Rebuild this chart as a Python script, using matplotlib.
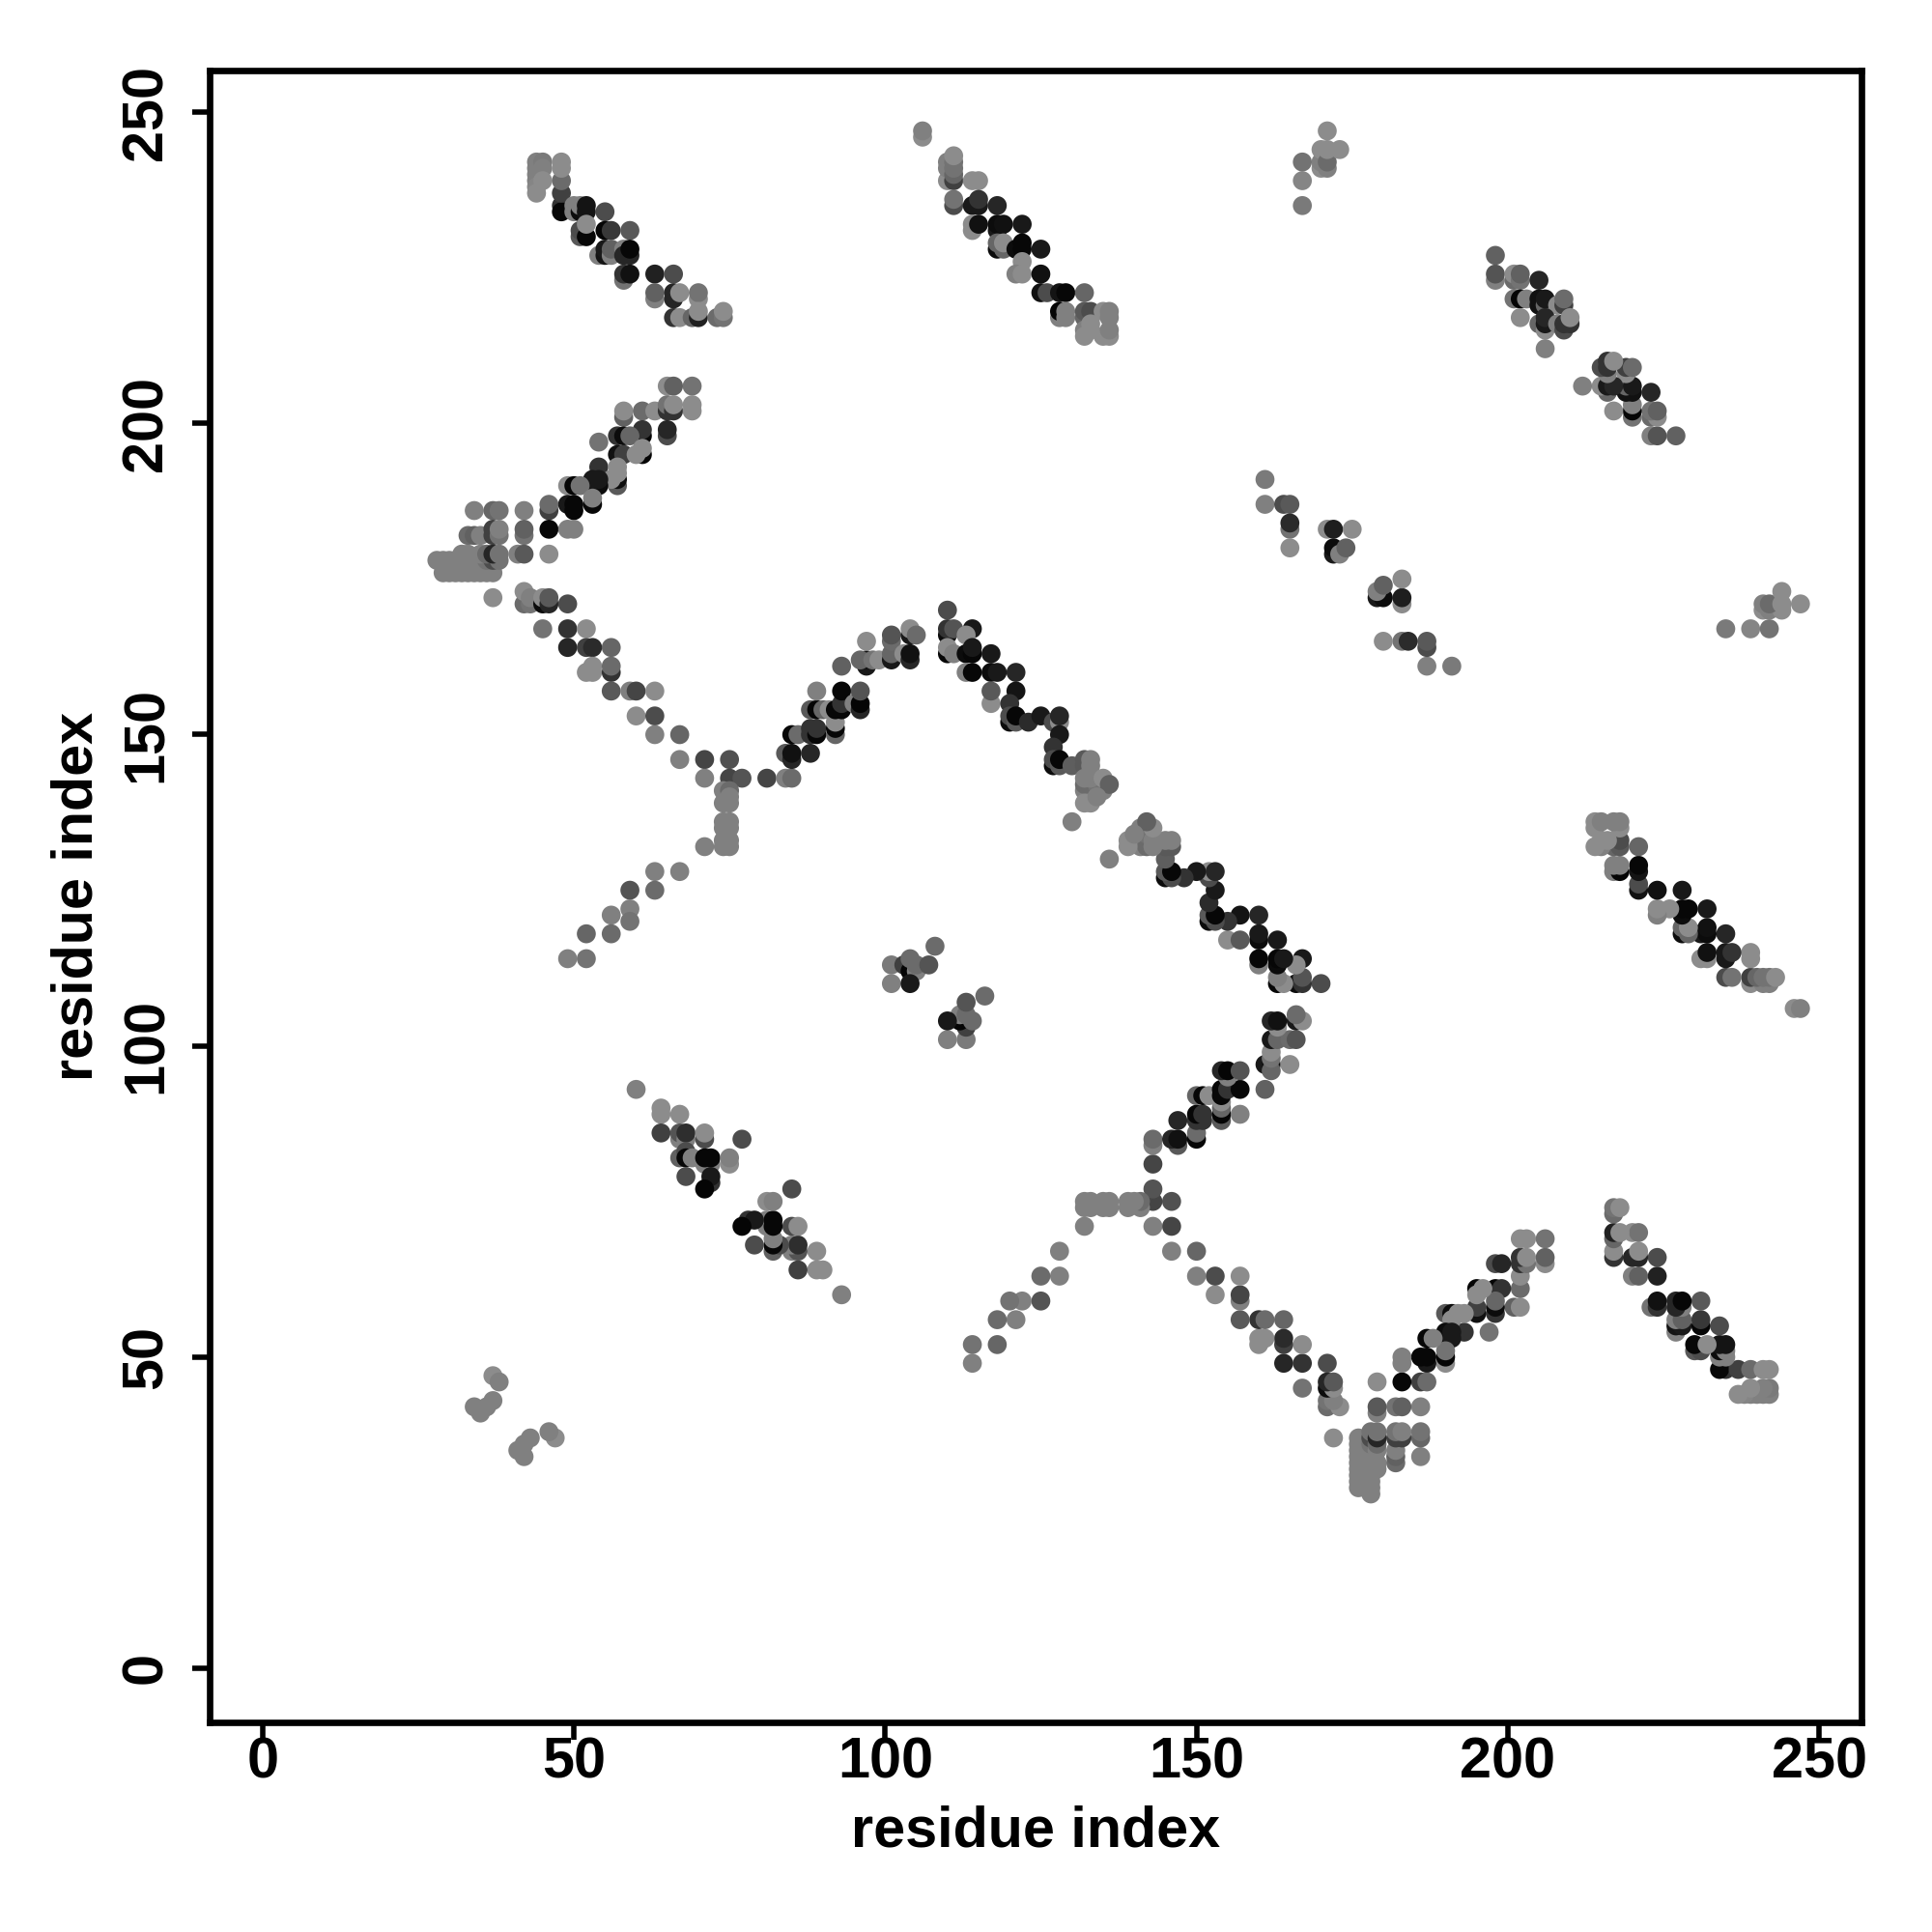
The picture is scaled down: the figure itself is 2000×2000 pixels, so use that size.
#!/usr/bin/env python3
"""Residue contact map, drawn from the upper triangle and mirrored."""

import matplotlib

matplotlib.use("Agg")
import matplotlib.pyplot as plt
import numpy as np

# each entry: (residue i, residue j, grey level) with i < j
strand_a = [
    (44, 242, .5), (44, 241, .5), (44, 240, .5), (44, 239, .5), (44, 238, .52), (44, 237, .55),
    (45, 242, .48), (45, 241, .5), (45, 239, .55),
    (48, 235, .2), (48, 234, .03), (48, 237, .25), (48, 239, .42), (48, 241, .55), (48, 242, .55),
    (50, 235, .5), (50, 234, .5), (51, 234, .05), (51, 235, .5), (52, 235, .08), (52, 234, .08),
    (55, 234, .3), (51, 230, .35), (51, 231, .3), (52, 230, .03), (52, 232, .55),
    (55, 231, .02), (56, 231, .22), (59, 231, .35), (54, 227, .5), (55, 227, .08), (55, 228, .1),
    (56, 227, .5), (56, 228, .38), (58, 228, .5), (58, 227, .15), (59, 227, .15), (59, 228, .03),
    (58, 223, .45), (58, 224, .2), (59, 224, .07), (63, 224, .13), (66, 224, .3),
    (63, 220, .5), (63, 221, .38), (66, 220, .15), (66, 221, .15), (67, 221, .55),
    (70, 220, .55), (70, 221, .45), (66, 217, .2), (67, 217, .55), (69, 217, .4),
    (70, 217, .13), (70, 218, .55), (73, 217, .42), (74, 217, .45), (74, 218, .55),
]
strand_b = [
    (65, 206, .55), (66, 206, .38), (69, 206, .45), (58, 201, .38), (58, 202, .55), (61, 202, .42),
    (63, 202, .55), (65, 202, .2), (65, 203, .45), (66, 202, .2), (66, 203, .55),
    (69, 202, .55), (69, 203, .55), (65, 198, .3), (65, 199, .15), (61, 198, .02), (61, 199, .2),
    (57, 198, .2), (58, 198, .05), (59, 198, .4), (54, 197, .45), (57, 195, .07), (58, 195, .25),
    (61, 195, .02), (60, 195, .55), (61, 196, .55), (54, 193, .2), (57, 190, .35), (57, 191, .05),
    (57, 192, .55), (57, 193, .55), (56, 191, .55), (53, 190, .05), (54, 190, .05), (53, 191, .1),
    (54, 191, .1), (49, 190, .55), (50, 190, .02), (51, 190, .45), (53, 187, .03), (53, 188, .5),
    (49, 187, .1), (50, 186, .03), (50, 187, .03), (46, 186, .25), (46, 187, .42),
    (34, 186, .5), (37, 186, .4), (38, 186, .45), (42, 186, .5),
    (33, 182, .42), (34, 182, .38), (35, 182, .5), (37, 182, .25), (37, 183, .25), (38, 182, .45),
    (38, 183, .5), (42, 182, .45), (42, 183, .38), (46, 183, .03), (49, 183, .5), (50, 183, .5),
    (30, 176, .5), (31, 176, .5), (32, 176, .5), (33, 176, .5), (34, 176, .5), (35, 176, .5),
    (36, 176, .5), (37, 176, .5), (29, 176, .5),
    (28, 178, .5), (29, 178, .5), (30, 178, .5), (31, 178, .5), (32, 178, .5), (33, 178, .5),
    (35, 178, .5), (36, 178, .45), (37, 178, .3), (38, 178, .45),
    (32, 179, .5), (33, 179, .5), (35, 179, .5), (36, 179, .42), (37, 179, .15), (38, 179, .45),
    (41, 179, .5), (42, 179, .35), (46, 179, .55), (37, 172, .55),
    (42, 171, .42), (42, 173, .55), (43, 171, .45), (43, 172, .5), (45, 171, .05), (45, 172, .55),
    (46, 171, .15), (46, 172, .35), (49, 171, .3),
    (45, 167, .45), (49, 167, .2), (52, 167, .55), (49, 164, .15), (52, 164, .25), (53, 164, .17),
    (56, 164, .4), (52, 160, .55), (53, 160, .55), (53, 161, .55), (56, 160, .2), (56, 161, .42),
    (56, 157, .35), (59, 157, .5), (60, 157, .27), (63, 157, .55), (60, 153, .55), (63, 153, .3),
    (63, 150, .5), (67, 150, .4), (67, 146, .5), (71, 146, .27), (75, 146, .32),
    (71, 143, .5), (75, 143, .27), (77, 143, .33), (81, 143, .27), (84, 143, .5), (85, 143, .42),
]
strand_c = [
    (74, 141, .5), (75, 141, .42), (74, 139, .5), (75, 139, .5), (75, 140, .5), (74, 136, .5),
    (75, 136, .5), (74, 135, .5), (75, 135, .5), (74, 133, .5), (75, 133, .5), (74, 132, .5),
    (75, 132, .5), (71, 132, .5), (63, 128, .5), (67, 128, .5), (59, 125, .33), (63, 125, .42),
    (59, 122, .5), (59, 120, .45), (56, 121, .5), (52, 118, .4), (56, 118, .42),
    (49, 114, .5), (52, 114, .45),
]
strand_d = [
    (85, 150, .03), (86, 150, .42), (84, 147, .35), (85, 146, .15), (85, 147, .07), (88, 147, .15),
    (88, 150, .2), (88, 151, .2), (89, 150, .03), (89, 151, .2), (88, 154, .35), (89, 154, .02),
    (90, 154, .4), (91, 154, .55), (89, 157, .5), (92, 150, .4), (92, 151, .03), (92, 152, .55),
    (92, 154, .03), (93, 154, .03), (93, 155, .2), (93, 157, .03), (95, 155, .5), (96, 154, .15),
    (96, 155, .02), (96, 157, .33), (93, 161, .38), (97, 161, .1), (97, 162, .07), (96, 162, .4),
    (98, 162, .45), (99, 162, .55), (97, 165, .55), (101, 162, .1), (101, 163, .4), (101, 165, .42),
    (101, 166, .33), (103, 163, .55), (104, 162, .15), (104, 163, .07), (104, 166, .1),
    (104, 167, .55), (105, 166, .42),
]
strand_e = [
    (106, 246, .55), (106, 247, .5), (110, 239, .55), (110, 241, .5), (110, 242, .5), (111, 239, .25),
    (111, 240, .4), (111, 241, .45), (111, 242, .45), (111, 243, .55), (114, 239, .55), (115, 239, .55),
    (111, 235, .3), (111, 236, .45), (114, 235, .1), (115, 235, .1), (115, 236, .2), (118, 235, .15),
    (114, 231, .55), (114, 232, .55), (115, 232, .07), (118, 231, .1), (118, 232, .05), (119, 232, .07),
    (122, 232, .1), (118, 228, .05), (118, 229, .4), (119, 228, .4), (119, 229, .55), (121, 228, .05),
    (122, 228, .03), (122, 229, .03), (125, 228, .1), (122, 226, .55), (121, 224, .5), (122, 224, .55),
    (125, 224, .07), (125, 221, .07), (126, 221, .3), (128, 221, .08), (129, 221, .03), (132, 221, .4),
    (128, 217, .5), (128, 218, .02), (129, 217, .5), (129, 218, .5), (132, 217, .4), (132, 218, .35),
    (133, 218, .3), (132, 215, .5), (132, 214, .55), (133, 216, .55), (133, 215, .55),
    (135, 218, .55), (136, 218, .5), (136, 217, .5), (135, 214, .55), (136, 214, .55), (136, 215, .5),
]
strand_f = [
    (167, 235, .48), (167, 239, .52), (167, 242, .45), (170, 241, .55), (170, 242, .5), (170, 244, .55),
    (171, 241, .5), (171, 242, .42), (171, 244, .55), (171, 247, .55), (173, 244, .55),
]
strand_g = [
    (198, 223, .5), (198, 224, .33), (198, 227, .38), (201, 223, .42), (201, 224, .55), (202, 223, .45),
    (202, 224, .38), (205, 223, .15), (201, 220, .45), (202, 220, .02), (203, 220, .5), (205, 219, .07),
    (205, 220, .07), (206, 219, .4), (206, 220, .1), (208, 219, .55), (209, 219, .25), (209, 220, .42),
    (202, 217, .55), (205, 216, .4), (206, 215, .55), (206, 216, .1), (206, 217, .15), (208, 216, .5),
    (209, 215, .3), (209, 216, .2), (210, 216, .2), (210, 217, .55), (206, 212, .5),
]
arc_h = [
    (110, 170, .3), (110, 166, .05), (110, 167, .2), (111, 167, .33), (114, 167, .1), (113, 166, .55),
    (110, 163, .03), (110, 164, .55), (111, 163, .5), (113, 163, .05), (114, 163, .03), (114, 164, .1),
    (117, 163, .1), (113, 160, .5), (114, 160, .03), (117, 160, .05), (118, 160, .1), (121, 160, .15),
    (117, 155, .55), (117, 157, .35), (121, 157, .08), (120, 155, .2), (120, 152, .05), (120, 153, .3),
    (121, 152, .35), (121, 153, .03), (123, 152, .17), (125, 153, .1), (127, 152, .3), (128, 152, .55),
    (128, 153, .15), (128, 150, .1), (127, 148, .2), (127, 145, .05), (127, 146, .3), (128, 145, .35),
    (128, 146, .03), (130, 145, .37), (132, 145, .35), (132, 146, .35), (133, 145, .5), (133, 146, .5),
    (132, 141, .5), (133, 141, .5), (135, 141, .5), (132, 142, .42), (133, 142, .42), (134, 142, .45),
    (132, 143, .5), (133, 143, .5), (135, 143, .55), (136, 142, .38), (132, 139, .55), (133, 139, .55),
    (134, 140, .5), (130, 136, .5),
]
patch_i = [
    (60, 93, .5), (64, 89, .55), (64, 90, .55), (67, 89, .55), (64, 86, .25), (67, 85, .5), (67, 86, .33),
    (68, 85, .5), (68, 86, .18), (71, 85, .3), (71, 86, .55), (77, 85, .3), (67, 82, .38), (68, 83, .3),
    (68, 82, .03), (69, 82, .5), (71, 81, .5), (72, 81, .5), (71, 82, .03), (72, 82, .03), (75, 81, .55),
    (75, 82, .5), (68, 79, .3), (72, 78, .2), (72, 79, .1), (71, 77, .02),
]
patch_j = [
    (34, 42, .5), (35, 41, .5), (36, 42, .5), (37, 43, .5), (37, 47, .55), (38, 46, .5),
]
patch_k = [
    (108, 116, .42), (101, 113, .48), (103, 113, .25), (104, 112, .02), (104, 114, .42),
    (105, 112, .5), (105, 113, .42), (107, 113, .33), (101, 110, .5), (104, 110, .1),
]
patch_l = [
    (161, 191, .48), (161, 187, .5), (164, 187, .3), (165, 187, .35), (165, 183, .45), (165, 184, .17),
    (165, 180, .55), (171, 183, .55), (172, 183, .12), (175, 183, .55), (172, 179, .1),
    (172, 180, .05), (173, 179, .5), (174, 180, .38),
]

tick_values = [0, 50, 100, 150, 200, 250]
axis_label = "residue index"


def main():
    plt.rcParams["font.family"] = ["Liberation Sans", "DejaVu Sans"]
    plt.rcParams["font.weight"] = "bold"

    groups = [strand_a, strand_b, strand_c, strand_d, strand_e, strand_f,
              strand_g, arc_h, patch_i, patch_j, patch_k, patch_l]
    upper = np.array([p for group in groups for p in group])
    xs = np.concatenate([upper[:, 0], upper[:, 1]])
    ys = np.concatenate([upper[:, 1], upper[:, 0]])
    levels = np.concatenate([upper[:, 2], upper[:, 2]])

    fig = plt.figure(figsize=(10, 10), dpi=200)
    ax = fig.add_axes([217 / 2000, 1 - 1783 / 2000, 1710 / 2000, 1710 / 2000])
    ax.scatter(xs, ys, c=levels, cmap="gray", vmin=0, vmax=1, s=50, linewidths=0, clip_on=False)

    ax.set_xlim(-8.5, 256.8)
    ax.set_ylim(-8.7, 256.7)
    ax.set_xticks(tick_values)
    ax.set_yticks(tick_values)
    ax.tick_params(axis="both", length=6.5, width=2, labelsize=21.4)
    ax.tick_params(axis="x", pad=-1.2)
    ax.tick_params(axis="y", pad=7)
    for label in ax.get_yticklabels():
        label.set_rotation(90)
        label.set_va("center")
    for side in ax.spines.values():
        side.set_linewidth(2.4)

    ax.set_xlabel(axis_label, fontsize=21.4, fontweight="bold", labelpad=5.5)
    ax.set_ylabel(axis_label, fontsize=21.4, fontweight="bold", labelpad=6)

    fig.savefig("out.png", dpi=200)


if __name__ == "__main__":
    main()
